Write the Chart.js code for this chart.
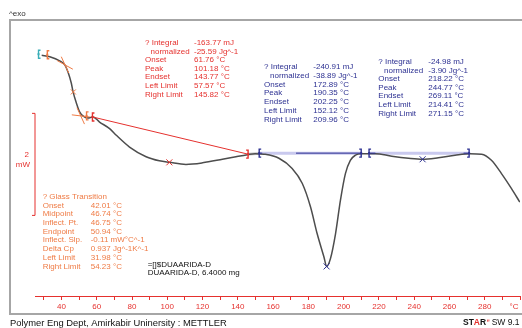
<!DOCTYPE html>
<html>
<head>
<meta charset="utf-8">
<script src="https://cdn.jsdelivr.net/npm/chart.js@4/dist/chart.umd.min.js"></script>
<style>
  html, body { margin: 0; padding: 0; background: #ffffff; }
  canvas { display: block; }
</style>
</head>
<body>
<canvas id="dsc" width="522" height="328"></canvas>
<script>
// DSC heating run, temperature in °C, heat flow in mW (exo up)
const temps = [28.8, 33.4, 39.0, 41.9, 43.7, 45.6, 46.6, 48.5, 50.3, 52.2, 55.0, 57.9, 61.6, 67.3, 71.1, 78.6,
  88.0, 95.5, 101.18, 110.6, 120.0, 131.3, 138.9, 145.4, 149.8, 154.9, 163.3, 170.8, 176.5, 181.2, 185.0,
  188.8, 190.35, 192.5, 195.4, 198.2, 201.0, 203.8, 206.7, 209.7, 218.0, 227.3, 236.8, 244.77, 253.7,
  263.2, 271.6, 278.2, 283.8, 289.5, 295.1, 299.9];
const heatFlow = [1.92, 1.89, 1.81, 1.73, 1.59, 1.37, 1.20, 0.98, 0.81, 0.73, 0.69, 0.71, 0.61, 0.48, 0.35, 0.12,
  -0.07, -0.15, -0.18, -0.22, -0.19, -0.12, -0.07, -0.03, -0.01, -0.02, -0.10, -0.30, -0.59, -1.05, -1.58,
  -2.03, -2.22, -2.07, -1.58, -0.92, -0.40, -0.14, -0.04, -0.01, -0.01, -0.06, -0.10, -0.12, -0.09,
  -0.04, -0.01, -0.02, -0.14, -0.40, -0.69, -0.96];

// axis ticks (labels every 20 °C, marks every 10 °C)
const tickStep = 10;
const labelStep = 20;
const axisUnit = '°C';
const axisUnitAt = 296.6;

// integration 1 (red): limits, baseline ends, peak
const int1Limits = [57.57, 145.82];
const int1LimitFlow = [0.71, -0.02];
const int1Peak = 101.18;
// integrations 2 and 3 (blue)
const int2Limits = [152.12, 209.96];
const int3Limits = [214.41, 271.15];
const blueBaseFlow = 0.0;
const bluePeaks = [190.35, 244.77];
// glass transition (orange): onset, inflection, endpoint and limits
const glassTemps = [42.01, 46.75, 50.94];
const glassFlow = [1.73, 1.20, 0.73];
const glassLimits = [31.98, 54.23];
const glassLimitFlow = [1.93, 0.73];
const startMark = [27.0, 1.94];
// 2 mW scale bar
const barTopFlow = 0.78;
const barSpan = 2;

const txt1Labels = ['? Integral', 'normalized', 'Onset', 'Peak', 'Endset', 'Left Limit', 'Right Limit'];
const txt1Values = ['-163.77 mJ', '-25.59 Jg^-1', '61.76 °C', '101.18 °C', '143.77 °C', '57.57 °C', '145.82 °C'];
const txt2Values = ['-240.91 mJ', '-38.89 Jg^-1', '172.89 °C', '190.35 °C', '202.25 °C', '152.12 °C', '209.96 °C'];
const txt3Values = ['-24.98 mJ', '-3.90 Jg^-1', '218.22 °C', '244.77 °C', '269.11 °C', '214.41 °C', '271.15 °C'];
const glassLabels = ['? Glass Transition', 'Onset', 'Midpoint', 'Inflect. Pt.', 'Endpoint', 'Inflect. Slp.', 'Delta Cp', 'Left Limit', 'Right Limit'];
const glassValues = ['', '42.01 °C', '46.74 °C', '46.75 °C', '50.94 °C', '-0.11 mW°C^-1', '0.937 Jg^-1K^-1', '31.98 °C', '54.23 °C'];
const sampleLines = ['=[]$DUAARIDA-D', 'DUAARIDA-D, 6.4000 mg'];
const footerLeft = 'Polymer Eng Dept, Amirkabir Uninersity : METTLER';

const RED = '#e5312e';
const BLUE = '#2d3192';
const ORANGE = '#ef7b45';
const FONT = '"Liberation Sans", Arial, sans-serif';

function flowAt(t) { return heatFlow[temps.indexOf(t)]; }

function bracket(ctx, px, py, dir, color) {
  ctx.save();
  ctx.strokeStyle = color; ctx.lineWidth = 1.4;
  ctx.beginPath();
  ctx.moveTo(px + 2 * dir, py - 4);
  ctx.lineTo(px, py - 4);
  ctx.lineTo(px, py + 4);
  ctx.lineTo(px + 2 * dir, py + 4);
  ctx.stroke();
  ctx.fillStyle = color;
  ctx.fillRect(px - 1, py - 1, 2, 2);
  ctx.restore();
}
function cross(ctx, px, py, r, color) {
  ctx.save();
  ctx.strokeStyle = color; ctx.lineWidth = 1;
  ctx.beginPath();
  ctx.moveTo(px - r, py - r); ctx.lineTo(px + r, py + r);
  ctx.moveTo(px - r, py + r); ctx.lineTo(px + r, py - r);
  ctx.stroke();
  ctx.restore();
}
function tangentX(ctx, px, py, slopes, arm, color) {
  ctx.save();
  ctx.strokeStyle = color; ctx.lineWidth = 1;
  ctx.beginPath();
  slopes.forEach(s => {
    const n = Math.hypot(1, s);
    const dx = arm / n, dy = arm * s / n;
    ctx.moveTo(px - dx, py - dy); ctx.lineTo(px + dx, py + dy);
  });
  ctx.stroke();
  ctx.restore();
}
function block(ctx, color, x0, xv, y0, step, labels, values, indentIdx, indentX) {
  ctx.fillStyle = color;
  labels.forEach((l, i) => {
    const y = y0 + i * step;
    ctx.fillText(l, i === indentIdx ? indentX : x0, y);
    if (values[i]) ctx.fillText(values[i], xv, y);
  });
}

const dscOverlay = {
  id: 'dscOverlay',
  beforeDatasetsDraw(chart) {
    const { ctx, scales: { x, y } } = chart;
    ctx.save();
    ctx.strokeStyle = '#c9c9ee'; ctx.lineWidth = 3;
    [int2Limits, int3Limits].forEach(l => {
      ctx.beginPath();
      ctx.moveTo(x.getPixelForValue(l[0]), y.getPixelForValue(blueBaseFlow));
      ctx.lineTo(x.getPixelForValue(l[1]), y.getPixelForValue(blueBaseFlow));
      ctx.stroke();
    });
    ctx.strokeStyle = '#d4d4d4'; ctx.lineWidth = 3;
    ctx.beginPath();
    ctx.moveTo(x.getPixelForValue(int1Limits[1]), y.getPixelForValue(int1LimitFlow[1]));
    ctx.lineTo(x.getPixelForValue(int2Limits[0]), y.getPixelForValue(blueBaseFlow));
    ctx.stroke();
    ctx.restore();
  },
  afterDatasetsDraw(chart) {
    const { ctx, scales: { x, y }, chartArea: a } = chart;
    const X = v => x.getPixelForValue(v), Y = v => y.getPixelForValue(v);

    // red integration baseline
    ctx.save();
    ctx.strokeStyle = RED; ctx.lineWidth = 1;
    ctx.beginPath();
    ctx.moveTo(X(int1Limits[0]), Y(int1LimitFlow[0]));
    ctx.lineTo(X(int1Limits[1]), Y(int1LimitFlow[1]));
    ctx.stroke();
    // blue baselines (thin centre line)
    ctx.strokeStyle = BLUE; ctx.lineWidth = 1;
    ctx.beginPath();
    ctx.moveTo(X(int2Limits[0]), Y(blueBaseFlow)); ctx.lineTo(X(int2Limits[0]) + 3, Y(blueBaseFlow));
    ctx.moveTo(X(173), Y(blueBaseFlow)); ctx.lineTo(X(int2Limits[1]), Y(blueBaseFlow));
    ctx.moveTo(X(int3Limits[0]), Y(blueBaseFlow)); ctx.lineTo(X(218), Y(blueBaseFlow));
    ctx.moveTo(X(268), Y(blueBaseFlow)); ctx.lineTo(X(int3Limits[1]), Y(blueBaseFlow));
    ctx.stroke();
    ctx.restore();

    bracket(ctx, X(int1Limits[0]), Y(int1LimitFlow[0]), 1, RED);
    bracket(ctx, X(int1Limits[1]), Y(int1LimitFlow[1]), -1, RED);
    bracket(ctx, X(int2Limits[0]), Y(blueBaseFlow), 1, BLUE);
    bracket(ctx, X(int2Limits[1]), Y(blueBaseFlow), -1, BLUE);
    bracket(ctx, X(int3Limits[0]), Y(blueBaseFlow), 1, BLUE);
    bracket(ctx, X(int3Limits[1]), Y(blueBaseFlow), -1, BLUE);
    bracket(ctx, X(glassLimits[0]), Y(glassLimitFlow[0]), 1, ORANGE);
    bracket(ctx, X(glassLimits[1]), Y(glassLimitFlow[1]), 1, ORANGE);
    bracket(ctx, X(startMark[0]), Y(startMark[1]), 1, '#3aaeb8');

    cross(ctx, X(int1Peak), Y(flowAt(int1Peak)), 3, RED);
    bluePeaks.forEach(t => cross(ctx, X(t), Y(flowAt(t)), 3, BLUE));

    tangentX(ctx, X(glassTemps[0]), Y(glassFlow[0]), [0.55, 2.2], 9, ORANGE);
    cross(ctx, X(glassTemps[1]), Y(glassFlow[1]), 2.5, ORANGE);
    tangentX(ctx, X(glassTemps[2]), Y(glassFlow[2]), [0.12, 2.2], 9, ORANGE);

    // 2 mW scale bar at the left edge of the plot
    const bx = a.left, b0 = Y(barTopFlow), b1 = Y(barTopFlow - barSpan);
    ctx.save();
    ctx.strokeStyle = RED; ctx.lineWidth = 1;
    ctx.beginPath();
    ctx.moveTo(bx - 3, b0); ctx.lineTo(bx, b0); ctx.lineTo(bx, b1); ctx.lineTo(bx - 3, b1);
    ctx.stroke();
    ctx.fillStyle = RED;
    ctx.font = '8px ' + FONT;
    ctx.textAlign = 'right'; ctx.textBaseline = 'middle';
    ctx.fillText(String(barSpan), 29, 155);
    ctx.fillText('mW', 30, 165);
    ctx.restore();
  },
  afterDraw(chart) {
    const { ctx, scales: { x } } = chart;
    ctx.save();
    // frame
    ctx.strokeStyle = '#a6a6a6'; ctx.lineWidth = 2;
    ctx.strokeRect(10, 20, 530, 294);
    ctx.font = '8px ' + FONT;
    ctx.textBaseline = 'middle'; ctx.textAlign = 'left';
    ctx.fillStyle = '#333333';
    ctx.fillText('^exo', 9, 14);
    // unit at the end of the temperature axis
    ctx.fillStyle = RED; ctx.textAlign = 'center';
    ctx.fillText(axisUnit, x.getPixelForValue(axisUnitAt), 307);
    ctx.textAlign = 'left';

    block(ctx, RED, 145, 194, 42.7, 8.6, txt1Labels, txt1Values, 1, 150.5);
    block(ctx, BLUE, 264, 313.3, 66.7, 8.8, txt1Labels, txt2Values, 1, 270);
    block(ctx, BLUE, 378.3, 428.3, 61.7, 8.6, txt1Labels, txt3Values, 1, 384);
    block(ctx, ORANGE, 42.7, 90.7, 196.7, 8.7, glassLabels, glassValues, -1, 0);

    ctx.fillStyle = '#111111';
    sampleLines.forEach((s, i) => ctx.fillText(s, 147.7, 265 + i * 7.8));

    // footer
    ctx.font = '9.4px ' + FONT;
    ctx.fillStyle = '#111111';
    ctx.fillText(footerLeft, 10, 323);
    let fx = 463;
    const parts = [['ST', '#111111'], ['A', RED], ['R', '#111111']];
    ctx.font = 'bold 8.5px ' + FONT;
    parts.forEach(([s, c]) => { ctx.fillStyle = c; ctx.fillText(s, fx, 323); fx += ctx.measureText(s).width; });
    ctx.font = '5.5px ' + FONT; ctx.fillStyle = RED;
    ctx.fillText('e', fx + 0.5, 320); fx += ctx.measureText('e').width + 1.5;
    ctx.font = '8.5px ' + FONT; ctx.fillStyle = '#111111';
    ctx.fillText('SW 9.1', fx + 1, 323);
    ctx.restore();
  }
};

new Chart(document.getElementById('dsc'), {
  type: 'line',
  data: {
    datasets: [{
      data: temps.map((t, i) => ({ x: t, y: heatFlow[i] })),
      borderColor: '#4d4d4d',
      borderWidth: 1.5,
      pointRadius: 0,
      cubicInterpolationMode: 'monotone',
      fill: false
    }]
  },
  options: {
    responsive: false,
    animation: false,
    devicePixelRatio: 1,
    layout: { padding: { left: 35, top: 20, right: 0, bottom: 0 } },
    plugins: { legend: { display: false }, tooltip: { enabled: false } },
    scales: {
      x: {
        type: 'linear',
        min: 25,
        max: 300,
        afterFit: s => { s.height = 32; },
        border: { display: true, color: RED, width: 1 },
        grid: { drawOnChartArea: false, drawTicks: true, tickLength: 4, color: RED },
        ticks: {
          stepSize: tickStep,
          includeBounds: false,
          autoSkip: false,
          maxRotation: 0,
          padding: 2,
          color: RED,
          font: { size: 8, family: FONT },
          callback: v => (v % labelStep === 0 && v < 300) ? String(v) : ''
        }
      },
      y: { display: false, min: -2.8, max: 2.61 }
    }
  },
  plugins: [dscOverlay]
});
</script>
</body>
</html>
